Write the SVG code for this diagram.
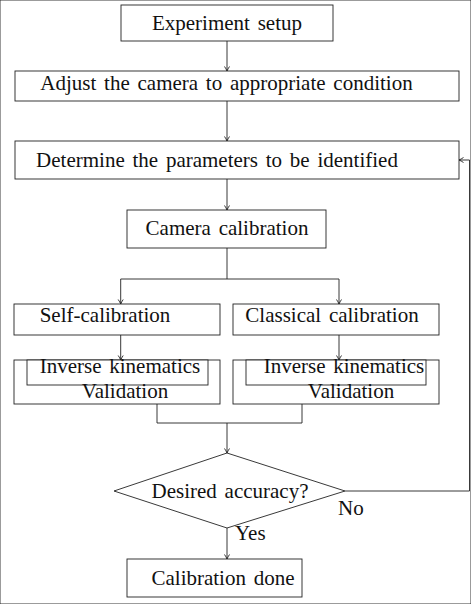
<svg xmlns="http://www.w3.org/2000/svg" width="471" height="604" viewBox="0 0 471 604">
<defs>
<style>
rect, polygon { fill: #fff; stroke: #222; stroke-width: 0.9; }
.c { fill: none; stroke: #222; stroke-width: 0.9; }
text { font-family: "Liberation Serif", "Times New Roman", serif; font-size: 21px; fill: #111; word-spacing: 2.5px; }
.m { text-anchor: middle; }
</style>
<marker id="ah" markerWidth="8" markerHeight="8" refX="6" refY="4" orient="auto" markerUnits="userSpaceOnUse">
<path d="M1.5,1.5 Q4,3.2 6,4 Q4,4.8 1.5,6.5" fill="none" stroke="#222" stroke-width="0.9"/>
</marker>
</defs>
<rect width="471" height="604" fill="#fff" stroke="none"/>
<g id="connectors">
<line class="c" x1="227" y1="41" x2="227" y2="71" marker-end="url(#ah)"/>
<line class="c" x1="227" y1="101" x2="227" y2="141" marker-end="url(#ah)"/>
<line class="c" x1="227" y1="179" x2="227" y2="210" marker-end="url(#ah)"/>
<polyline class="c" points="227,248 227,279 120.7,279 120.7,304" marker-end="url(#ah)"/>
<polyline class="c" points="227,279 339,279 339,304" marker-end="url(#ah)"/>
<line class="c" x1="120.7" y1="335" x2="120.7" y2="360" marker-end="url(#ah)"/>
<line class="c" x1="339" y1="335" x2="339" y2="360" marker-end="url(#ah)"/>
<polyline class="c" points="157,404 157,423 302,423 302,404"/>
<line class="c" x1="227" y1="423" x2="227" y2="453" marker-end="url(#ah)"/>
<line class="c" x1="227" y1="528" x2="227" y2="559" marker-end="url(#ah)"/>
<polyline class="c" points="345,491 469.5,491 469.5,160 459,160" marker-end="url(#ah)"/>
</g>
<g id="n1"><rect x="121" y="5" width="212" height="36"/><text class="m" x="227" y="30">Experiment setup</text></g>
<g id="n2"><rect x="15" y="71" width="444" height="30"/><text class="m" x="226.5" y="90">Adjust the camera to appropriate condition</text></g>
<g id="n3"><rect x="15" y="141" width="444" height="38"/><text class="m" x="217" y="167">Determine the parameters to be identified</text></g>
<g id="n4"><rect x="127" y="210" width="199" height="38"/><text class="m" x="227" y="235">Camera calibration</text></g>
<g id="n5"><rect x="14" y="304" width="206" height="31"/><text class="m" x="105" y="322">Self-calibration</text></g>
<g id="n6"><rect x="233" y="304" width="206" height="31"/><text class="m" x="332" y="322">Classical calibration</text></g>
<g id="n7"><rect x="14" y="360" width="206" height="44"/><rect x="27" y="360" width="181" height="25"/><text class="m" x="120" y="373">Inverse kinematics</text><text class="m" x="125" y="398">Validation</text></g>
<g id="n8"><rect x="233" y="360" width="206" height="44"/><rect x="246" y="360" width="180" height="25"/><text class="m" x="344" y="373">Inverse kinematics</text><text class="m" x="351" y="398">Validation</text></g>
<g id="n9"><polygon points="227,453 345,491 227,528 114,491"/><text class="m" x="230" y="498">Desired accuracy?</text></g>
<g id="n10"><rect x="127" y="559" width="175" height="38"/><text class="m" x="223" y="585">Calibration done</text></g>
<g id="labels"><text x="338" y="515">No</text><text x="235" y="540">Yes</text></g>
</svg>
